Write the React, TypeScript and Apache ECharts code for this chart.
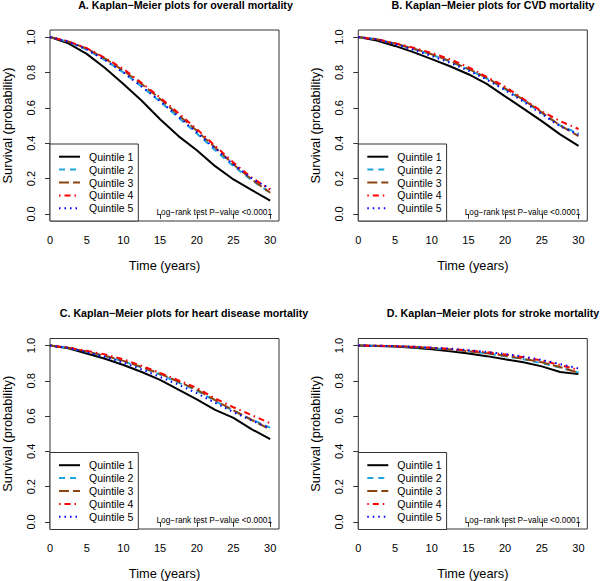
import React, { useEffect, useRef } from 'react';
import * as echarts from 'echarts';

const times = [0, 2.5, 5, 7.5, 10, 12.5, 15, 17.5, 20, 22.5, 25, 27.5, 30];
const quintileNames = ['Quintile 1', 'Quintile 2', 'Quintile 3', 'Quintile 4', 'Quintile 5'];
const xTickValues = [0, 5, 10, 15, 20, 25, 30];
const yTickValues = [0, 0.2, 0.4, 0.6, 0.8, 1.0];
const panelTitles = [
  'A. Kaplan\u2212Meier plots for overall mortality',
  'B. Kaplan\u2212Meier plots for CVD mortality',
  'C. Kaplan\u2212Meier plots for heart disease mortality',
  'D. Kaplan\u2212Meier plots for stroke mortality',
];
const pValueText = 'Log\u2212rank test P\u2212value <0.0001';
const xAxisTitle = 'Time (years)';
const yAxisTitle = 'Survival (probability)';

// A. overall mortality
const overallQ1 = [1, 0.965, 0.905, 0.825, 0.735, 0.64, 0.535, 0.44, 0.36, 0.27, 0.195, 0.135, 0.075];
const overallQ2 = [1, 0.973, 0.93, 0.87, 0.8, 0.72, 0.635, 0.545, 0.455, 0.36, 0.27, 0.19, 0.12];
const overallQ3 = [1, 0.975, 0.935, 0.878, 0.81, 0.735, 0.65, 0.56, 0.47, 0.375, 0.28, 0.195, 0.12];
const overallQ4 = [1, 0.976, 0.937, 0.882, 0.82, 0.74, 0.658, 0.57, 0.48, 0.385, 0.29, 0.205, 0.138];
const overallQ5 = [1, 0.974, 0.93, 0.87, 0.8, 0.72, 0.638, 0.55, 0.46, 0.37, 0.28, 0.2, 0.142];

// B. CVD mortality
const cvdQ1 = [1, 0.98, 0.95, 0.915, 0.875, 0.835, 0.79, 0.735, 0.665, 0.595, 0.525, 0.45, 0.385];
const cvdQ2 = [1, 0.988, 0.963, 0.933, 0.9, 0.862, 0.817, 0.765, 0.705, 0.64, 0.57, 0.5, 0.455];
const cvdQ3 = [1, 0.988, 0.963, 0.935, 0.903, 0.865, 0.82, 0.77, 0.71, 0.645, 0.575, 0.5, 0.44];
const cvdQ4 = [1, 0.988, 0.965, 0.94, 0.91, 0.875, 0.83, 0.775, 0.72, 0.65, 0.58, 0.525, 0.48];
const cvdQ5 = [1, 0.987, 0.96, 0.928, 0.893, 0.855, 0.81, 0.76, 0.7, 0.635, 0.565, 0.495, 0.45];

// C. heart disease mortality
const heartQ1 = [1, 0.985, 0.955, 0.925, 0.89, 0.85, 0.805, 0.75, 0.695, 0.635, 0.59, 0.525, 0.47];
const heartQ2 = [1, 0.988, 0.965, 0.94, 0.91, 0.875, 0.835, 0.79, 0.745, 0.685, 0.63, 0.58, 0.535];
const heartQ3 = [1, 0.988, 0.966, 0.942, 0.913, 0.878, 0.84, 0.795, 0.75, 0.69, 0.632, 0.578, 0.525];
const heartQ4 = [1, 0.988, 0.97, 0.95, 0.922, 0.885, 0.845, 0.803, 0.76, 0.7, 0.65, 0.605, 0.56];
const heartQ5 = [1, 0.987, 0.962, 0.935, 0.903, 0.865, 0.822, 0.778, 0.73, 0.675, 0.622, 0.575, 0.53];

// D. stroke mortality
const strokeQ1 = [1, 0.998, 0.994, 0.988, 0.979, 0.968, 0.955, 0.94, 0.922, 0.905, 0.882, 0.85, 0.838];
const strokeQ2 = [1, 0.999, 0.996, 0.991, 0.985, 0.977, 0.967, 0.955, 0.94, 0.922, 0.9, 0.875, 0.848];
const strokeQ3 = [1, 0.999, 0.996, 0.992, 0.986, 0.978, 0.968, 0.956, 0.942, 0.925, 0.905, 0.878, 0.845];
const strokeQ4 = [1, 0.999, 0.996, 0.993, 0.988, 0.981, 0.972, 0.962, 0.95, 0.934, 0.915, 0.89, 0.862];
const strokeQ5 = [1, 0.999, 0.997, 0.993, 0.988, 0.982, 0.974, 0.964, 0.952, 0.937, 0.918, 0.895, 0.87];

const panelData = [
  [overallQ1, overallQ2, overallQ3, overallQ4, overallQ5],
  [cvdQ1, cvdQ2, cvdQ3, cvdQ4, cvdQ5],
  [heartQ1, heartQ2, heartQ3, heartQ4, heartQ5],
  [strokeQ1, strokeQ2, strokeQ3, strokeQ4, strokeQ5],
];

const lineColors = ['#000000', '#1ea6dd', '#8b4513', '#ff0000', '#0000ff'];
const lineDashes: any[] = ['solid', [6, 5], [10, 4], [1.5, 4, 6, 4], [1.5, 4]];

const FONT = '"Liberation Sans", Arial, Helvetica, sans-serif';
const GW = 229;
const GH = 191;
const panelLayout = [
  { left: 50, top: 30, titleX: 185.5, titleY: 5 },
  { left: 358.3, top: 30, titleX: 493, titleY: 5 },
  { left: 50, top: 338.5, titleX: 184, titleY: 313 },
  { left: 358.3, top: 338.5, titleX: 493, titleY: 313 },
];

export default function App() {
  const ref = useRef<HTMLDivElement>(null);
  useEffect(() => {
    if (!ref.current) return;
    const chart = echarts.init(ref.current, undefined, { renderer: 'svg' });
    const grids: any[] = [];
    const xAxes: any[] = [];
    const yAxes: any[] = [];
    const series: any[] = [];
    const graphics: any[] = [];

    panelLayout.forEach((p, i) => {
      grids.push({
        left: p.left,
        top: p.top,
        width: GW,
        height: GH,
        show: true,
        borderColor: '#333',
        borderWidth: 1,
        backgroundColor: 'transparent',
        containLabel: false,
      });
      xAxes.push({
        type: 'value',
        gridIndex: i,
        min: 0,
        max: 31.2,
        splitLine: { show: false },
        axisLine: { show: false },
        axisTick: { show: true, length: 5, customValues: xTickValues, lineStyle: { color: '#333' } },
        axisLabel: {
          customValues: xTickValues,
          color: '#000',
          fontSize: 11,
          fontFamily: FONT,
          margin: 13,
        },
        name: xAxisTitle,
        nameLocation: 'middle',
        nameGap: 38,
        nameTextStyle: { fontSize: 12.8, fontFamily: FONT, color: '#000' },
      });
      yAxes.push({
        type: 'value',
        gridIndex: i,
        min: -0.04,
        max: 1.04,
        splitLine: { show: false },
        axisLine: { show: false },
        axisTick: { show: true, length: 5, customValues: yTickValues, lineStyle: { color: '#333' } },
        axisLabel: {
          customValues: yTickValues,
          rotate: 90,
          color: '#000',
          fontSize: 11,
          fontFamily: FONT,
          margin: 14,
          formatter: (v: number) => v.toFixed(1),
        },
        name: yAxisTitle,
        nameLocation: 'middle',
        nameGap: 36,
        nameTextStyle: { fontSize: 12.8, fontFamily: FONT, color: '#000' },
      });
      panelData[i].forEach((arr, k) => {
        series.push({
          type: 'line',
          name: quintileNames[k],
          xAxisIndex: i,
          yAxisIndex: i,
          data: times.map((t, j) => [t, arr[j]]),
          showSymbol: false,
          symbol: 'none',
          lineStyle: { color: lineColors[k], width: 2, type: lineDashes[k] },
          z: 2 + k,
        });
      });

      graphics.push({
        type: 'text',
        x: p.titleX,
        y: p.titleY,
        z: 20,
        style: {
          text: panelTitles[i],
          fontSize: 10.7,
          fontWeight: 'bold',
          fontFamily: FONT,
          fill: '#000',
          textAlign: 'center',
          textVerticalAlign: 'middle',
        },
      });
      graphics.push({
        type: 'rect',
        z: 20,
        shape: { x: p.left, y: p.top + 114, width: 88.3, height: GH - 114 },
        style: { fill: '#fff', stroke: '#333', lineWidth: 1 },
      });
      quintileNames.forEach((nm, k) => {
        const yy = p.top + 126.7 + k * 12.9;
        graphics.push({
          type: 'line',
          z: 21,
          shape: { x1: p.left + 9, y1: yy, x2: p.left + 30, y2: yy },
          style: {
            stroke: lineColors[k],
            lineWidth: 2,
            lineDash: lineDashes[k] === 'solid' ? null : lineDashes[k],
          },
        });
        graphics.push({
          type: 'text',
          z: 21,
          x: p.left + 39,
          y: yy,
          style: {
            text: nm,
            fontSize: 10.5,
            fontFamily: FONT,
            fill: '#000',
            textAlign: 'left',
            textVerticalAlign: 'middle',
          },
        });
      });
      graphics.push({
        type: 'text',
        z: 21,
        x: p.left + 222,
        y: p.top + 181.7,
        style: {
          text: pValueText,
          fontSize: 8.3,
          fontFamily: FONT,
          fill: '#000',
          textAlign: 'right',
          textVerticalAlign: 'middle',
        },
      });
    });

    chart.setOption({
      animation: false,
      backgroundColor: '#fff',
      textStyle: { fontFamily: FONT },
      grid: grids,
      xAxis: xAxes,
      yAxis: yAxes,
      series,
      graphic: graphics,
    });
    return () => chart.dispose();
  }, []);
  return (
    <div
      ref={ref}
      style={{ position: 'fixed', left: 0, top: 0, width: 600, height: 581, background: '#fff' }}
    />
  );
}
